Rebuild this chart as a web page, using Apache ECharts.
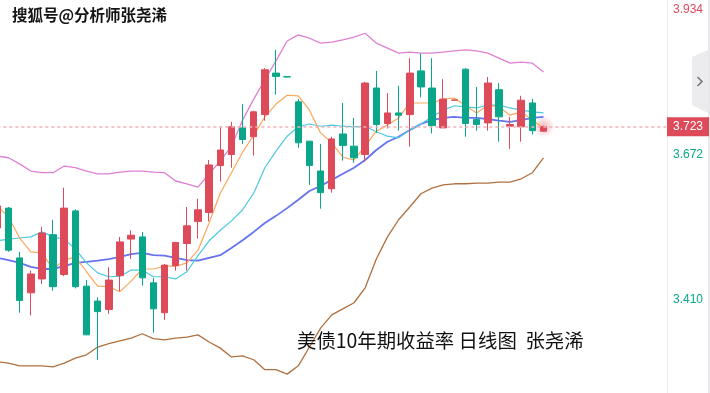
<!DOCTYPE html>
<html>
<head>
<meta charset="utf-8">
<script src="https://cdn.jsdelivr.net/npm/echarts@6/dist/echarts.min.js"></script>
<style>
html,body{margin:0;padding:0;background:#fff;}
#c{width:710px;height:393px;}
</style>
</head>
<body>
<div id="c"></div>
<script>
// ---- data ----
const categories = ['1','2','3','4','5','6','7','8','9','10','11','12','13','14','15','16','17','18','19','20','21','22','23','24','25','26','27','28','29','30','31','32','33','34','35','36','37','38','39','40','41','42','43','44','45','46','47','48','49','50','51','52','53','54','55','56','57','58','59','60','61'];
const opens  = [3.540,3.576,3.486,3.423,3.448,3.528,3.456,3.571,3.435,3.408,3.393,3.454,3.520,3.524,3.441,3.387,3.472,3.512,3.552,3.568,3.653,3.673,3.721,3.705,3.745,3.820,3.8135,3.768,3.697,3.643,3.611,3.710,3.688,3.673,3.793,3.729,3.748,3.745,3.824,3.793,3.721,3.771,3.827,3.736,3.730,3.790,3.724,3.723,3.766,3.715];
const closes = [3.580,3.500,3.409,3.457,3.531,3.434,3.576,3.434,3.347,3.389,3.446,3.515,3.527,3.450,3.394,3.473,3.514,3.544,3.573,3.654,3.681,3.723,3.700,3.750,3.826,3.814,3.813,3.694,3.653,3.604,3.701,3.689,3.667,3.802,3.727,3.748,3.744,3.820,3.795,3.725,3.773,3.7715,3.729,3.727,3.802,3.741,3.727,3.771,3.716,3.723];
const lows   = [3.533,3.497,3.387,3.382,3.439,3.427,3.453,3.431,3.347,3.302,3.385,3.426,3.484,3.436,3.351,3.374,3.463,3.463,3.521,3.552,3.624,3.649,3.692,3.671,3.734,3.781,3.812,3.685,3.618,3.575,3.604,3.662,3.658,3.660,3.712,3.720,3.716,3.687,3.776,3.711,3.721,3.771,3.705,3.716,3.716,3.696,3.683,3.696,3.709,3.714];
const highs  = [3.591,3.578,3.497,3.463,3.542,3.555,3.613,3.574,3.446,3.415,3.469,3.524,3.536,3.533,3.450,3.475,3.515,3.578,3.593,3.663,3.724,3.732,3.764,3.752,3.829,3.862,3.814,3.773,3.697,3.692,3.705,3.766,3.739,3.804,3.824,3.784,3.797,3.847,3.855,3.847,3.809,3.772,3.829,3.795,3.813,3.802,3.741,3.779,3.773,3.725];

const maFast = [3.580,3.560,3.522,3.497,3.495,3.466,3.482,3.488,3.461,3.435,3.434,3.425,3.444,3.466,3.466,3.471,3.471,3.477,3.500,3.549,3.603,3.640,3.677,3.708,3.741,3.764,3.780,3.779,3.753,3.712,3.694,3.668,3.663,3.688,3.715,3.726,3.739,3.766,3.766,3.766,3.773,3.775,3.761,3.748,3.762,3.759,3.744,3.750,3.735,3.721];
const maMid  = [3.517,3.520,3.522,3.524,3.533,3.524,3.520,3.502,3.477,3.459,3.452,3.453,3.464,3.464,3.452,3.452,3.448,3.461,3.490,3.517,3.536,3.553,3.573,3.603,3.649,3.679,3.706,3.723,3.728,3.724,3.726,3.724,3.723,3.724,3.714,3.706,3.703,3.717,3.728,3.741,3.753,3.761,3.759,3.757,3.762,3.762,3.757,3.753,3.750,3.748];
const maSlow = [3.486,3.482,3.477,3.470,3.466,3.466,3.471,3.477,3.479,3.481,3.484,3.488,3.493,3.495,3.491,3.490,3.486,3.482,3.481,3.486,3.491,3.504,3.518,3.533,3.549,3.562,3.576,3.591,3.607,3.616,3.627,3.638,3.649,3.663,3.681,3.696,3.705,3.717,3.728,3.735,3.739,3.741,3.739,3.739,3.737,3.734,3.732,3.735,3.739,3.741];
const bollUpper = [3.670,3.667,3.656,3.643,3.640,3.640,3.652,3.649,3.643,3.638,3.638,3.641,3.643,3.643,3.641,3.640,3.625,3.620,3.614,3.638,3.661,3.688,3.735,3.773,3.808,3.842,3.878,3.889,3.883,3.874,3.876,3.880,3.885,3.892,3.874,3.865,3.856,3.858,3.856,3.856,3.858,3.860,3.862,3.860,3.856,3.847,3.838,3.840,3.838,3.822];
const bollLower = [3.298,3.296,3.291,3.291,3.291,3.289,3.296,3.305,3.311,3.325,3.331,3.336,3.341,3.349,3.340,3.338,3.341,3.343,3.347,3.334,3.323,3.307,3.309,3.302,3.284,3.284,3.276,3.291,3.325,3.359,3.383,3.394,3.405,3.432,3.484,3.524,3.555,3.578,3.602,3.612,3.618,3.620,3.620,3.621,3.621,3.623,3.623,3.629,3.640,3.667];

const axisTicks = [3.410, 3.672, 3.934];
const lastPrice = 3.723;
const yMin = 3.2419, yMax = 3.9521;

// ---- styles ----
const RED = '#dd4a5a', GREEN = '#0aa68a';
const candleData = opens.map((o, i) => [o, closes[i], lows[i], highs[i]]);
const lineS = (name, data, color, width) => ({
  name, type: 'line', data, symbol: 'none', showSymbol: false, silent: true,
  lineStyle: { color, width }, z: 3
});

const chart = echarts.init(document.getElementById('c'), null, { renderer: 'canvas' });
chart.setOption({
  animation: false,
  backgroundColor: '#fff',
  title: [
    { text: '搜狐号@分析师张尧浠', left: 12, top: 7, padding: 0,
      textStyle: { fontSize: 15.5, fontWeight: 'bold', color: '#151515', fontFamily: 'Noto Sans CJK SC',
        textBorderColor: '#fff', textBorderWidth: 2 } },
    { text: '美债10年期收益率 日线图  张尧浠', left: 297, top: 331, padding: 0,
      textStyle: { fontSize: 19.4, fontWeight: 'normal', color: '#111', fontFamily: 'Noto Sans CJK SC' } }
  ],
  grid: { left: -8.21, top: 0, width: 679.9, height: 393, containLabel: false, outerBoundsMode: 'none' },
  xAxis: { type: 'category', data: categories, boundaryGap: true, show: false },
  yAxis: [
    { type: 'value', position: 'right', offset: -4.7, min: yMin, max: yMax,
      splitLine: { show: false }, axisTick: { show: false },
      axisLine: { show: true, lineStyle: { color: '#ebebeb', width: 1 } },
      axisLabel: { customValues: axisTicks, margin: 6, fontSize: 12, fontFamily: 'Liberation Sans',
        formatter: v => Number(v).toFixed(3),
        color: v => (Number(v) > 3.8 ? RED : GREEN) } },
    { type: 'value', position: 'right', offset: -4.7, min: yMin, max: yMax,
      splitLine: { show: false }, axisTick: { show: false }, axisLine: { show: false },
      axisLabel: { customValues: [lastPrice], margin: 0, fontSize: 12, fontFamily: 'Liberation Sans',
        formatter: v => Number(v).toFixed(3), color: '#fff', backgroundColor: RED,
        padding: [3, 6, 2, 6], lineHeight: 14 } }
  ],
  graphic: [
    { type: 'rect', shape: { x: 708, y: 0, width: 2, height: 393 }, style: { fill: '#e8e8ea' }, silent: true },
    { type: 'polygon', shape: { points: [[708, 50], [692, 57], [692, 105], [708, 113]] }, style: { fill: '#ececef' }, silent: true },
    { type: 'polyline', shape: { points: [[697.5, 77], [702, 81.5], [697.5, 86]] }, style: { stroke: '#777', lineWidth: 1.6, fill: null }, silent: true }
  ],
  series: [
    lineS('BOLL上轨', bollUpper, '#de7fd3', 1.3),
    lineS('BOLL下轨', bollLower, '#b0703f', 1.3),
    lineS('MA20', maSlow, '#6673ee', 1.8),
    lineS('MA10', maMid, '#4cc9e0', 1.2),
    lineS('MA5', maFast, '#fba75c', 1.2),
    {
      name: 'K', type: 'candlestick', data: candleData, barWidth: 7, z: 4,
      itemStyle: { color: RED, color0: GREEN, borderColor: RED, borderColor0: GREEN, borderWidth: 1 },
      markLine: {
        silent: true, symbol: 'none', label: { show: false },
        lineStyle: { type: [3, 3], color: '#f2b0b9', width: 1.6 },
        data: [[{ coord: ['1', lastPrice] }, { coord: ['61', lastPrice] }]]
      }
    },
    {
      name: 'glow', type: 'scatter', silent: true, z: 2,
      data: [[categories[closes.length - 1], lastPrice]],
      symbolSize: 22,
      itemStyle: {
        color: { type: 'radial', x: 0.5, y: 0.5, r: 0.5,
          colorStops: [{ offset: 0, color: 'rgba(221,74,90,0.5)' }, { offset: 1, color: 'rgba(221,74,90,0)' }] }
      }
    }
  ]
});
</script>
</body>
</html>
